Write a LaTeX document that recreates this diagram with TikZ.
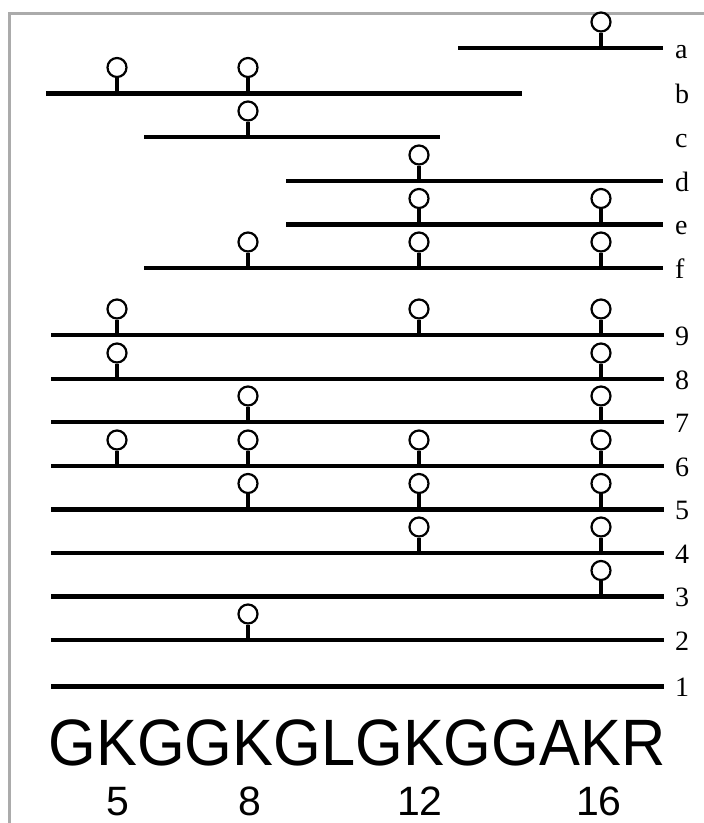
\documentclass[tikz,border=0pt]{standalone}
\usepackage{fontspec}
\setmainfont{Liberation Serif}
\newfontfamily\seqfont[FakeStretch=0.935]{Liberation Sans}
\newfontfamily\numfont{Liberation Sans}
\begin{document}
\begin{tikzpicture}[x=1pt,y=-1pt,
  strand/.style={line width=4.2pt},
  stem/.style={line width=3.2pt},
  head/.style={draw,line width=2.2pt,fill=white,circle,minimum size=19pt,inner sep=0pt},
  lab/.style={anchor=base west,inner sep=0pt,font=\fontsize{28}{30}\selectfont},
  frame/.style={draw=black!33,line width=3pt}]
\useasboundingbox (0,0) rectangle (704,823);
\draw[frame] (9,830) -- (9,13) -- (710,13);
% rows: name/y/xstart/xend/pins
\foreach \n/\y/\xs/\xe/\pins in {
  a/48/458/663/{601},
  b/93.5/46/522/{117,248},
  c/137/144/440/{248},
  d/181/286/663/{419},
  e/224.5/286/663/{419,601},
  f/268/144/663/{248,419,601},
  9/335/51/664/{117,419,601},
  8/379/51/664/{117,601},
  7/422/51/664/{248,601},
  6/466/51/664/{117,248,419,601},
  5/509.5/51/664/{248,419,601},
  4/553/51/664/{419,601},
  3/596.5/51/664/{601},
  2/640/51/664/{248},
  1/686.5/51/664/{}}{
  \coordinate (s\n) at (\xs,\y);
  \coordinate (e\n) at (\xe,\y);
  \draw[strand] (s\n) -- (e\n);
  \node[lab] (l\n) at (675,\y+10) {\n};
  \foreach \p in \pins {
    \coordinate (p\n\p) at (\p,\y);
    \node[head] (h\n\p) at (\p,\y-26) {};
    \draw[stem] (p\n\p) -- (h\n\p.south);
  }
}
\node[anchor=base,inner sep=0pt,font=\seqfont\fontsize{65.6}{70}\selectfont] (seq) at (357,765) {GKGGKGLGKGGAKR};
\foreach \p/\t in {118/5,250/8,420/12,599/16}{
  \node[anchor=base,inner sep=0pt,font=\numfont\fontsize{41}{44}\selectfont] (n\t) at (\p,815) {\t};
}
\end{tikzpicture}
\end{document}
